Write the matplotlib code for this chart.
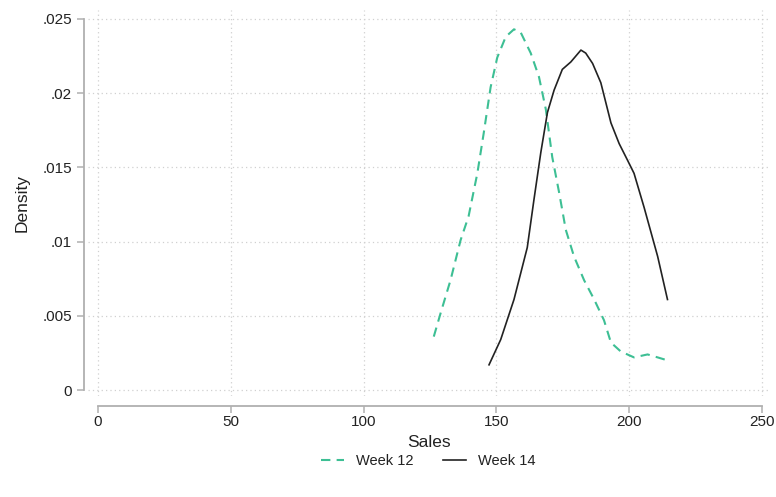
import matplotlib.pyplot as plt

plt.rcParams['font.family'] = ['Liberation Sans', 'DejaVu Sans']

# kernel density estimates, read off as (sales, density) pairs
week12_x = [126.4, 129.0, 132.7, 136.5, 139.5, 142.8, 145.2, 147.8, 150.3, 153.5,
            156.6, 159.1, 162.9, 166.0, 168.6, 171.0, 173.6, 176.1, 179.2, 183.0,
            186.8, 190.5, 193.1, 196.8, 201.8, 206.9, 210.7, 214.4]
week12_y = [.0036, .0052, .0074, .0101, .0117, .0146, .0173, .0204, .0224, .0238,
            .0243, .0241, .0227, .0211, .0189, .0157, .0133, .0108, .0090, .0074,
            .0061, .0047, .0032, .0026, .0022, .0024, .0022, .0020]

week14_x = [147.2, 151.6, 156.6, 161.6, 164.1, 166.7, 169.2, 171.7, 174.8, 178.0,
            181.8, 183.6, 186.2, 189.3, 193.1, 196.2, 199.3, 201.8, 205.6, 210.7,
            214.4]
week14_y = [.0017, .0034, .0061, .0096, .0128, .0160, .0187, .0202, .0216, .0221,
            .0229, .0227, .0220, .0207, .0180, .0166, .0155, .0146, .0123, .0090,
            .0061]

xticks = [0, 50, 100, 150, 200, 250]
yticks = [0, .005, .01, .015, .02, .025]
ylabels = ['0', '.005', '.01', '.015', '.02', '.025']

fig = plt.figure(figsize=(7.76, 4.97), dpi=100)
ax = fig.add_axes([88 / 776, 1 - 396 / 497, 682 / 776, 386 / 497])

ax.plot(week12_x, week12_y, color='#3dbf94', lw=1.5, dashes=(4.5, 3), label='Week 12')
ax.plot(week14_x, week14_y, color='#222222', lw=1.2, label='Week 14')

ax.set_xlim(-3.8, 253)
ax.set_ylim(-0.0004, 0.0256)
ax.set_xticks(xticks)
ax.set_yticks(yticks)
ax.set_yticklabels(ylabels)

ax.grid(True, color='#d0d0d0', linestyle=(0, (1, 2.5)), lw=0.9)
for s in ['top', 'right']:
    ax.spines[s].set_visible(False)
ax.spines['left'].set_position(('outward', 3))
ax.spines['bottom'].set_position(('outward', 7))
ax.spines['left'].set_bounds(0, .025)
ax.spines['bottom'].set_bounds(0, 250)
for s in ['left', 'bottom']:
    ax.spines[s].set_color('#b0b0b0')
    ax.spines[s].set_linewidth(1.3)
ax.tick_params(colors='#b0b0b0', labelcolor='#222222', labelsize=11, length=5, width=1.1)
ax.tick_params(axis='x', pad=2)

ax.set_xlabel('Sales', fontsize=12.5, color='#222222', labelpad=4)
ax.set_ylabel('Density', fontsize=12.5, color='#222222', labelpad=9)

fig.legend(loc='center', bbox_to_anchor=(428 / 776, 1 - 461 / 497), ncol=2,
           frameon=False, fontsize=10.5, handlelength=1.6, handletextpad=0.8,
           columnspacing=2.0, labelcolor='#222222')

fig.savefig('out.png', dpi=100)
